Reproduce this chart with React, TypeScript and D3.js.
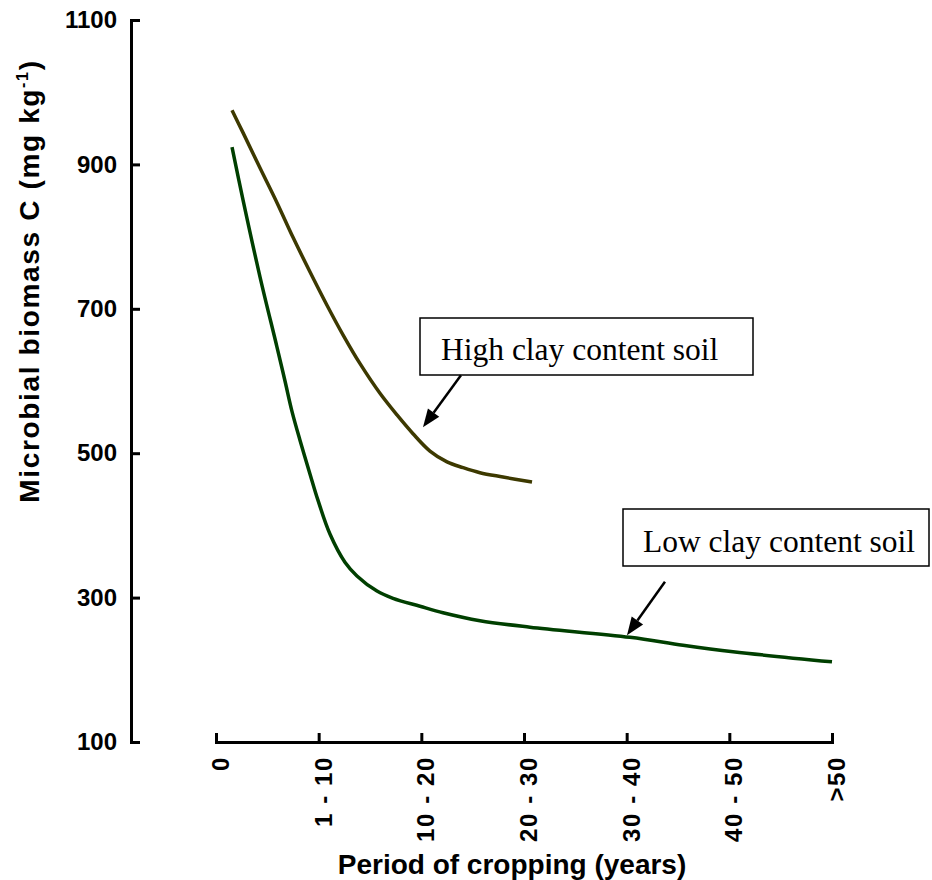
import React, { useEffect, useRef } from "react";
import * as d3 from "d3";

// Period of cropping categories (x axis) and biomass ticks (y axis)
const periodLabels = ["0", "1 - 10", "10 - 20", "20 - 30", "30 - 40", "40 - 50", ">50"];
const biomassTicks = [100, 300, 500, 700, 900, 1100];

// High clay content soil: position along the period axis and microbial biomass C
const highClayPos = [0.156, 0.263, 0.429, 0.594, 0.75, 0.916, 1.081, 1.237, 1.403, 1.597, 1.763, 1.919, 2.084, 2.25, 2.406, 2.571, 2.795, 3.078];
const highClayBiomass = [975, 944, 895, 847, 799, 751, 705, 664, 624, 583, 553, 527, 503, 488, 480, 473, 467, 460];

// Low clay content soil
const lowClayPos = [0.156, 0.263, 0.429, 0.594, 0.672, 0.74, 0.818, 0.916, 0.993, 1.11, 1.256, 1.373, 1.568, 1.724, 1.987, 2.211, 2.571, 3.058, 4.032, 4.549, 5.036, 6.0];
const lowClayBiomass = [924, 851, 744, 647, 600, 558, 518, 471, 435, 388, 349, 330, 309, 299, 288, 279, 268, 259, 245, 234, 225, 211];

const W = 932;
const H = 880;

export default function App() {
  const yAxisRef = useRef<SVGGElement>(null);
  const xAxisRef = useRef<SVGGElement>(null);

  const x = d3.scaleLinear().domain([0, periodLabels.length - 1]).range([216, 832]);
  const y = d3.scaleLinear().domain([100, 1100]).range([742, 20]);

  const line = d3
    .line<[number, number]>()
    .x((d) => x(d[0]))
    .y((d) => y(d[1]))
    .curve(d3.curveCatmullRom.alpha(0.5));

  const highPts = highClayPos.map((p, i) => [p, highClayBiomass[i]] as [number, number]);
  const lowPts = lowClayPos.map((p, i) => [p, lowClayBiomass[i]] as [number, number]);

  useEffect(() => {
    document.body.style.margin = "0";

    const ya = d3
      .axisLeft(y)
      .tickValues(biomassTicks)
      .tickFormat(d3.format("d"))
      .tickSizeInner(-9)
      .tickSizeOuter(-9)
      .tickPadding(14);
    const yg = d3.select(yAxisRef.current!);
    yg.call(ya);
    yg.selectAll("path, line").attr("stroke", "#000").attr("stroke-width", 3);
    yg.selectAll("text")
      .attr("fill", "#000")
      .style("font-family", "Arial, 'Liberation Sans', sans-serif")
      .style("font-weight", "bold")
      .style("font-size", "24px");

    const xa = d3
      .axisBottom(x)
      .tickValues(d3.range(periodLabels.length))
      .tickFormat((d) => periodLabels[d as number])
      .tickSizeInner(-9)
      .tickSizeOuter(-9);
    const xg = d3.select(xAxisRef.current!);
    xg.call(xa);
    xg.selectAll("path, line").attr("stroke", "#000").attr("stroke-width", 3);
    xg.selectAll("text")
      .attr("fill", "#000")
      .attr("transform", "rotate(-90)")
      .attr("x", -14)
      .attr("y", 4)
      .attr("dy", "0.35em")
      .attr("text-anchor", "end")
      .style("letter-spacing", "1.6px")
      .style("font-family", "Arial, 'Liberation Sans', sans-serif")
      .style("font-weight", "bold")
      .style("font-size", "24px");
    xg.attr("font-size", null).attr("font-family", null);
    yg.attr("font-size", null).attr("font-family", null);
  }, []);

  // Callout arrows, given in data coordinates: [start, tip]
  const highArrow = { from: [2.386, 608], to: [2.016, 536] };
  const lowArrow = { from: [4.373, 322], to: [4.003, 248] };

  const arrow = (a: { from: number[]; to: number[] }) => {
    const x1 = x(a.from[0]);
    const y1 = y(a.from[1]);
    const x2 = x(a.to[0]);
    const y2 = y(a.to[1]);
    const ang = Math.atan2(y2 - y1, x2 - x1);
    const len = 18;
    const half = 7;
    const bx = x2 - len * Math.cos(ang);
    const by = y2 - len * Math.sin(ang);
    const px = -Math.sin(ang) * half;
    const py = Math.cos(ang) * half;
    return (
      <g>
        <line x1={x1} y1={y1} x2={bx} y2={by} stroke="#000" strokeWidth={2.5} />
        <polygon points={`${x2},${y2} ${bx + px},${by + py} ${bx - px},${by - py}`} fill="#000" />
      </g>
    );
  };

  const serif = "'Times New Roman', 'Liberation Serif', serif";
  const sans = "Arial, 'Liberation Sans', sans-serif";

  return (
    <svg width={W} height={H} style={{ display: "block", background: "#fff" }}>
      <g ref={yAxisRef} transform="translate(131,0)" />
      <g ref={xAxisRef} transform="translate(0,742)" />

      <path d={line(highPts) ?? ""} fill="none" stroke="#3d3900" strokeWidth={3.5} />
      <path d={line(lowPts) ?? ""} fill="none" stroke="#003f00" strokeWidth={3.5} />

      {/* Callout boxes */}
      <rect x={420} y={318} width={333} height={57} fill="#fff" stroke="#000" strokeWidth={1.5} />
      <text x={441} y={360} fontFamily={serif} fontSize={31.5} fill="#000">
        High clay content soil
      </text>
      {arrow(highArrow)}

      <rect x={623} y={509} width={306} height={57} fill="#fff" stroke="#000" strokeWidth={1.5} />
      <text x={643} y={552} fontFamily={serif} fontSize={31.5} fill="#000">
        Low clay content soil
      </text>
      {arrow(lowArrow)}

      {/* Axis titles */}
      <text
        x={512}
        y={874}
        textAnchor="middle"
        fontFamily={sans}
        fontWeight="bold"
        fontSize={28}
        fill="#000"
      >
        Period of cropping (years)
      </text>
      <text
        transform="translate(39,281) rotate(-90)"
        textAnchor="middle"
        fontFamily={sans}
        fontWeight="bold"
        fontSize={28}
        letterSpacing={1.65}
        fill="#000"
      >
        Microbial biomass C (mg kg
        <tspan fontSize={16} dy={-11}>-1</tspan>
        <tspan dy={11}>)</tspan>
      </text>
    </svg>
  );
}
